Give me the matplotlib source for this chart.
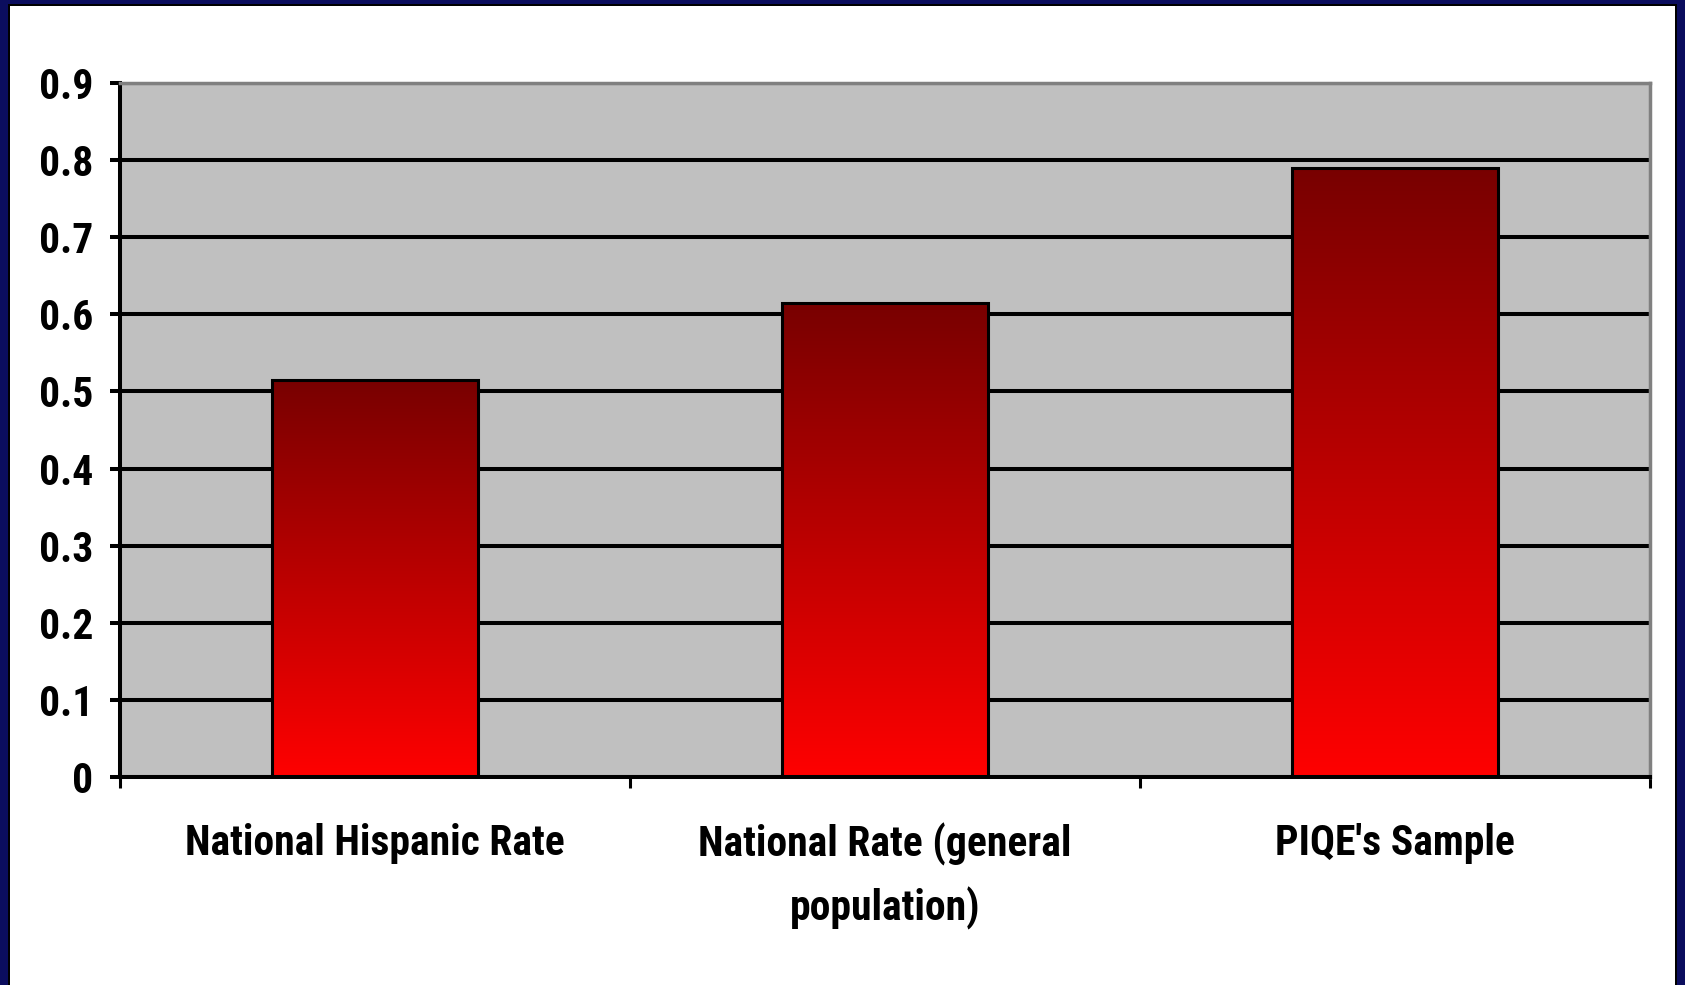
import matplotlib.pyplot as plt
import numpy as np
from matplotlib import font_manager
from matplotlib.patches import Rectangle
from matplotlib.colors import LinearSegmentedColormap

categories = ["National Hispanic Rate", "National Rate (general\npopulation)", "PIQE's Sample"]
rates = [0.515, 0.615, 0.79]
yticks = [0, 0.1, 0.2, 0.3, 0.4, 0.5, 0.6, 0.7, 0.8, 0.9]
ytick_labels = ["0", "0.1", "0.2", "0.3", "0.4", "0.5", "0.6", "0.7", "0.8", "0.9"]

# the original uses a narrow bold sans; take a condensed face if one is installed
installed = {f.name for f in font_manager.fontManager.ttflist}
font, size = 'Liberation Sans', 27
for cand in ['Liberation Sans Narrow', 'Roboto Condensed', 'Arial Narrow', 'Open Sans Condensed']:
    if cand in installed:
        font, size = cand, 30
        break

plt.rcParams['font.family'] = [font, 'Liberation Sans', 'DejaVu Sans']
plt.rcParams['font.weight'] = 'bold'

fig = plt.figure(figsize=(16.85, 9.85), dpi=100)
fig.patch.set_facecolor('white')

# navy frame around the slide area (left, top, right)
navy = '#0b0d5e'
W, H = 1685, 985
for (x0, y0, w, h) in [(0, 0, 8, H), (0, H - 4, W, 4), (W - 8, 0, 8, H)]:
    fig.patches.append(Rectangle((x0 / W, y0 / H), w / W, h / H, transform=fig.transFigure,
                                 facecolor=navy, edgecolor='none', zorder=10))
for (x0, y0, w, h) in [(8, 0, 2, H - 4), (8, H - 6, W - 16, 2), (W - 10, 0, 2, H - 4)]:
    fig.patches.append(Rectangle((x0 / W, y0 / H), w / W, h / H, transform=fig.transFigure,
                                 facecolor='black', edgecolor='none', zorder=10))

ax = fig.add_axes([120 / W, 208 / H, 1530 / W, 694 / H])
ax.set_facecolor('#c0c0c0')

x = np.arange(len(categories))
bars = ax.bar(x, rates, width=0.403, facecolor='none', edgecolor='black', linewidth=2.2, zorder=3)

# vertical gradient in each bar: dark red at top, bright red at bottom
cmap = LinearSegmentedColormap.from_list('redgrad', ['#ff0000', '#780000'])
grad = np.linspace(0, 1, 256).reshape(-1, 1)
for b in bars:
    bx, bw, bh = b.get_x(), b.get_width(), b.get_height()
    im = ax.imshow(grad, cmap=cmap, aspect='auto', origin='lower',
                   extent=[bx, bx + bw, 0, bh], zorder=2)
    im.set_clip_path(b)

ax.set_xlim(-0.5, len(categories) - 0.5)
ax.set_ylim(0, 0.9)
ax.set_yticks(yticks)
ax.set_yticklabels(ytick_labels)
ax.yaxis.grid(True, color='black', linewidth=2.9, zorder=1)
ax.set_axisbelow(True)

ax.set_xticks(x)
ax.set_xticklabels(categories, linespacing=1.6)
ax.set_xticks(np.arange(len(categories) + 1) - 0.5, minor=True)
ax.tick_params(axis='x', which='major', length=0, pad=33, labelsize=size)
ax.tick_params(axis='x', which='minor', length=8, width=2.2, color='black', direction='out')
ax.tick_params(axis='y', length=7, width=2.9, pad=12, labelsize=size, direction='out')

for s in ['left', 'bottom']:
    ax.spines[s].set_color('black')
    ax.spines[s].set_linewidth(2.9)
for s in ['top', 'right']:
    ax.spines[s].set_color('#808080')
    ax.spines[s].set_linewidth(2.5)

fig.savefig('out.png', dpi=100)
